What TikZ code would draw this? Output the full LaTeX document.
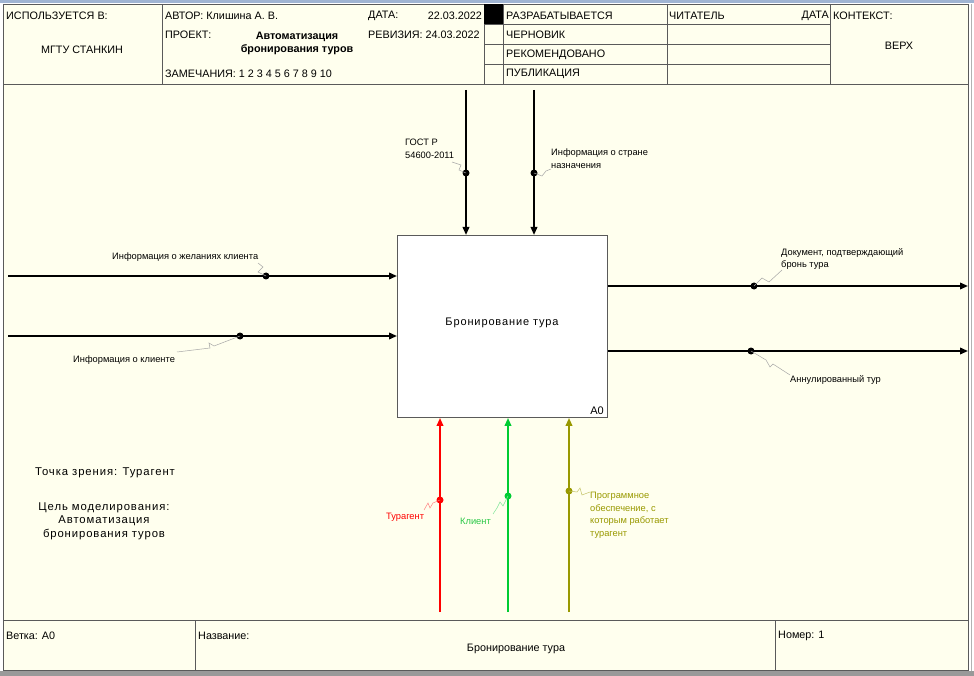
\documentclass[tikz,border=0pt]{standalone}
\usepackage{fontspec}
\setmainfont{Liberation Sans}
\newfontfamily\widefont[LetterSpace=8]{Liberation Sans}
\usetikzlibrary{arrows.meta}
\definecolor{paper}{RGB}{255,255,238}
\definecolor{frame}{RGB}{90,90,90}
\definecolor{topbar}{RGB}{160,180,210}
\definecolor{mred}{RGB}{255,0,0}
\definecolor{mgreen}{RGB}{0,204,51}
\definecolor{molive}{RGB}{153,153,0}
\definecolor{lgreen}{RGB}{40,200,70}
\begin{document}
\begin{tikzpicture}[x=1pt,y=-1pt,
  grid/.style={draw=frame,line width=0.9pt},
  hdr/.style={inner sep=0pt,font=\fontsize{10.8}{13}\selectfont},
  lab/.style={inner sep=0pt,font=\fontsize{9.3}{12.5}\selectfont,align=left},
  flow/.style={line width=1.9pt,-{Triangle[length=8pt,width=6.5pt]}},
  sq/.style={line width=0.5pt,draw=gray!70},
  dotmark/.style={circle,fill,inner sep=0pt,minimum size=7pt}]
\useasboundingbox (0,0) rectangle (974,676);
% page background and window edges
\fill[white] (0,0) rectangle (974,676);
\fill[topbar] (0,0) rectangle (974,3.5);
\fill[gray!80] (0,671) rectangle (974,676);
\fill[paper] (3,4) rectangle (968,670);
\draw[grid] (3,4) rectangle (968,670);
\draw[gray!60,line width=0.6pt] (971,4) -- (971,671);

% header grid
\draw[grid] (3,84) -- (968,84);
\draw[grid] (162,4) -- (162,84);
\draw[grid] (484,4) -- (484,84);
\draw[grid] (503,4) -- (503,84);
\draw[grid] (667,4) -- (667,84);
\draw[grid] (830,4) -- (830,84);
\foreach \yy in {24,44,64} \draw[grid] (484,\yy) -- (830,\yy);
\fill[black] (484,4) rectangle (503,24);

% header texts
\node[hdr,anchor=west] (used) at (6,16) {ИСПОЛЬЗУЕТСЯ В:};
\node[hdr] (org) at (82,50) {МГТУ СТАНКИН};
\node[hdr,anchor=west] (author) at (165,16) {АВТОР: Клишина А. В.};
\node[hdr,anchor=west] (date) at (368,16) {ДАТА:};
\node[hdr,anchor=east] (dateval) at (482,16) {22.03.2022};
\node[hdr,anchor=west] (proj) at (165,35) {ПРОЕКТ:};
\node[hdr,align=center,font=\fontsize{10.8}{13}\selectfont\bfseries] (projval) at (297,43) {Автоматизация\\бронирования туров};
\node[hdr,anchor=west] (rev) at (368,35) {РЕВИЗИЯ: 24.03.2022};
\node[hdr,anchor=west] (notes) at (165,74) {ЗАМЕЧАНИЯ: 1 2 3 4 5 6 7 8 9 10};
\node[hdr,anchor=west] (st1) at (506,16) {РАЗРАБАТЫВАЕТСЯ};
\node[hdr,anchor=west] (st2) at (506,35) {ЧЕРНОВИК};
\node[hdr,anchor=west] (st3) at (506,55) {РЕКОМЕНДОВАНО};
\node[hdr,anchor=west] (st4) at (506,74) {ПУБЛИКАЦИЯ};
\node[hdr,anchor=west] (reader) at (669,16) {ЧИТАТЕЛЬ};
\node[hdr,anchor=east] (rdate) at (829,16) {ДАТА};
\node[hdr,anchor=west] (ctx) at (833,16) {КОНТЕКСТ:};
\node[hdr] (ctxval) at (899,46) {ВЕРХ};

% footer grid
\draw[grid] (3,620) -- (968,620);
\draw[grid] (195,620) -- (195,670);
\draw[grid] (775,620) -- (775,670);
\node[hdr,anchor=west] (node) at (6,636) {Ветка: А0};
\node[hdr,anchor=west] (title) at (198,636) {Название:};
\node[hdr] (titleval) at (516,649) {Бронирование тура};
\node[hdr,anchor=west] (num) at (778,636) {Номер: 1};

% activity box
\node[draw=frame,line width=0.9pt,fill=white,minimum width=210pt,minimum height=182pt,anchor=north west,inner sep=0pt] (box) at (397,235) {};
\node[inner sep=0pt,font=\widefont\fontsize{11}{13}\selectfont] (boxlabel) at (502,323) {Бронирование тура};
\node[inner sep=0pt,font=\fontsize{11}{13}\selectfont,anchor=south east] (boxnum) at (604,415) {А0};

% arrow ends
\coordinate (c1s) at (466,90);
\coordinate (c2s) at (534,90);
\coordinate (i1s) at (8,276);
\coordinate (i2s) at (8,336);
\coordinate (o1e) at (968,286);
\coordinate (o2e) at (968,351);
\coordinate (m1s) at (440,612);
\coordinate (m2s) at (508,612);
\coordinate (m3s) at (569,612);

% controls
\draw[flow] (c1s) -- (c1s |- box.north);
\draw[flow] (c2s) -- (c2s |- box.north);
% inputs
\draw[flow] (i1s) -- (i1s -| box.west);
\draw[flow] (i2s) -- (i2s -| box.west);
% outputs
\draw[flow] (o1e -| box.east) -- (o1e);
\draw[flow] (o2e -| box.east) -- (o2e);
% mechanisms
\draw[flow,mred] (m1s) -- (m1s |- box.south);
\draw[flow,mgreen] (m2s) -- (m2s |- box.south);
\draw[flow,molive] (m3s) -- (m3s |- box.south);

% label anchors on the arrows
\node[dotmark] (d1) at (466,173) {};
\node[dotmark] (d2) at (534,173) {};
\node[dotmark] (d3) at (266,276) {};
\node[dotmark] (d4) at (240,336) {};
\node[dotmark] (d5) at (754,286) {};
\node[dotmark] (d6) at (751,351) {};
\node[dotmark,mred] (d7) at (440,500) {};
\node[dotmark,mgreen] (d8) at (508,496) {};
\node[dotmark,molive] (d9) at (569,491) {};

% squiggles
\draw[sq] (d1.center) -- (459,170) -- (461,165) -- (452,162);
\draw[sq] (d2.center) -- (542,176) -- (546,171) -- (551,169);
\draw[sq] (d3.center) -- (258,272) -- (263,267) -- (258,263);
\draw[sq] (d4.center) -- (214,346) -- (209,343) -- (210,348) -- (177,352);
\draw[sq] (d5.center) -- (762,278) -- (769,282) -- (782,270);
\draw[sq] (d6.center) -- (766,360) -- (770,367) -- (773,364) -- (790,375);
\draw[sq,draw=mred!50] (d7.center) -- (433,503) -- (430,508) -- (428,503) -- (424,510);
\draw[sq,draw=mgreen!50] (d8.center) -- (503,506) -- (500,502) -- (497,508) -- (493,514);
\draw[sq,draw=molive!60] (d9.center) -- (577,492) -- (580,488) -- (582,495) -- (590,492);

% arrow labels
\node[lab,anchor=north west] (l1) at (405,139) {ГОСТ Р\\54600-2011};
\node[lab,anchor=north west] (l2) at (551,149) {Информация о стране\\назначения};
\node[lab,anchor=west] (l3) at (112,257) {Информация о желаниях клиента};
\node[lab,anchor=west] (l4) at (73,360) {Информация о клиенте};
\node[lab,anchor=north west] (l5) at (781,248) {Документ, подтверждающий\\бронь тура};
\node[lab,anchor=west] (l6) at (790,380) {Аннулированный тур};
\node[lab,anchor=west,text=mred] (l7) at (386,517) {Турагент};
\node[lab,anchor=west,text=lgreen] (l8) at (460,521) {Клиент};
\node[lab,anchor=north west,text=molive] (l9) at (590,492) {Программное\\обеспечение, с\\которым работает\\турагент};

% viewpoint and purpose
\node[inner sep=0pt,font=\widefont\fontsize{11.3}{13.5}\selectfont] (view) at (105,473) {Точка зрения: Турагент};
\node[inner sep=0pt,align=center,font=\widefont\fontsize{11.3}{13.5}\selectfont] (purpose) at (104,521) {Цель моделирования:\\Автоматизация\\бронирования туров};
\end{tikzpicture}
\end{document}
